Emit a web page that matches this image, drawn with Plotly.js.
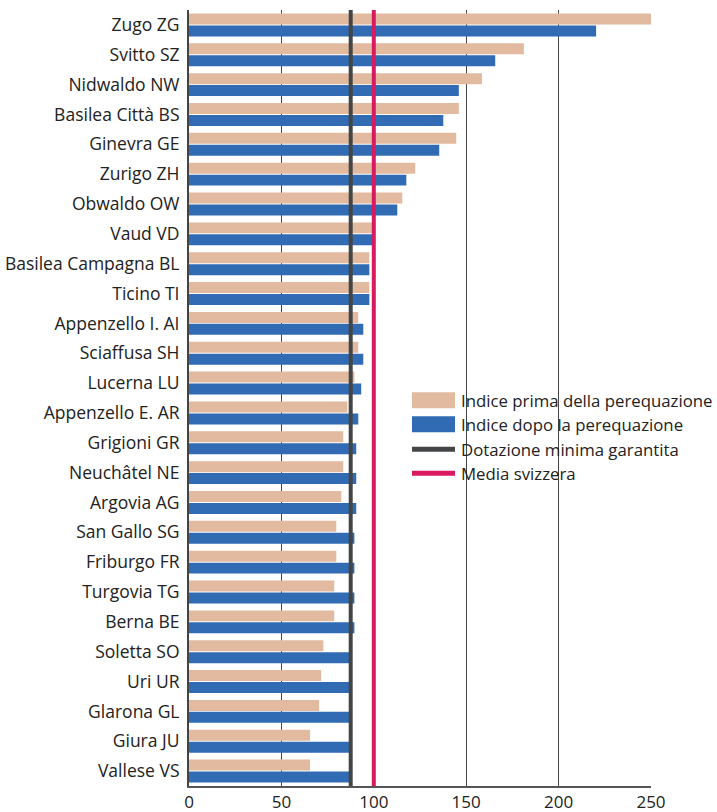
<!DOCTYPE html>
<html>
<head>
<meta charset="utf-8">
<script src="https://cdn.plot.ly/plotly-3.0.1.min.js"></script>
<style>
html,body{margin:0;padding:0;background:#fff;}
#chart{width:717px;height:812px;}
</style>
</head>
<body>
<div id="chart"></div>
<script>
const cantons = ["Zugo ZG","Svitto SZ","Nidwaldo NW","Basilea Città BS","Ginevra GE","Zurigo ZH","Obwaldo OW","Vaud VD","Basilea Campagna BL","Ticino TI","Appenzello I. AI","Sciaffusa SH","Lucerna LU","Appenzello E. AR","Grigioni GR","Neuchâtel NE","Argovia AG","San Gallo SG","Friburgo FR","Turgovia TG","Berna BE","Soletta SO","Uri UR","Glarona GL","Giura JU","Vallese VS"];
const indicePrima = [250.0,181.2,158.5,146.0,144.6,122.4,115.4,99.4,97.6,97.6,91.6,91.6,89.5,85.7,83.5,83.5,82.4,79.7,79.7,78.6,78.6,72.7,71.5,70.4,65.5,65.5];
const indiceDopo = [220.3,165.7,146.0,137.6,135.4,117.6,112.7,99.4,97.6,97.6,94.3,94.3,93.2,91.6,90.5,90.5,90.5,89.5,89.5,89.5,89.5,87.5,87.5,87.5,87.5,87.5];
const dotazioneMinima = 87.5;
const mediaSvizzera = 100;
const xTicks = [0,50,100,150,200,250];
const legendLabels = ["Indice prima della perequazione","Indice dopo la perequazione","Dotazione minima garantita","Media svizzera"];

const cBeige = "#e2baa0", cBlue = "#306bb3", cDark = "#434546", cRed = "#d81b60";
const font = "Open Sans, Noto Sans, sans-serif";

const traces = [
  {type:"bar", orientation:"h", y:cantons, x:indicePrima, name:legendLabels[0], marker:{color:cBeige}, showlegend:false, hoverinfo:"x+y"},
  {type:"bar", orientation:"h", y:cantons, x:indiceDopo, name:legendLabels[1], marker:{color:cBlue}, showlegend:false, hoverinfo:"x+y"}
];

const shapes = [
  {type:"line", xref:"x", yref:"paper", x0:dotazioneMinima, x1:dotazioneMinima, y0:0, y1:1, line:{color:cDark, width:4}},
  {type:"line", xref:"x", yref:"paper", x0:mediaSvizzera, x1:mediaSvizzera, y0:0, y1:1, line:{color:cRed, width:4}}
];
const annotations = [];
// custom legend
const legX0 = 412, legX1 = 455, legTextX = 459;
const legY = [400, 424, 449, 473];
const plotLeft = 189, plotW = 462, plotTop = 9.5, plotH = 776.5;
function px2x(p){return (p-plotLeft)/plotW;}
function py2y(p){return 1-(p-plotTop)/plotH;}
const legColors = [cBeige,cBlue,cDark,cRed];
legendLabels.forEach((lab,i)=>{
  const h = i<2 ? 8 : 2.5;
  shapes.push({type:"rect", xref:"paper", yref:"paper", x0:px2x(legX0), x1:px2x(legX1), y0:py2y(legY[i]+h), y1:py2y(legY[i]-h), fillcolor:legColors[i], line:{width:0}, layer:"above"});
  annotations.push({xref:"paper", yref:"paper", x:px2x(legTextX), y:py2y(legY[i]), xanchor:"left", yanchor:"middle", text:lab, showarrow:false, font:{family:font, size:16.8, color:"#222"}});
});

const layout = {
  width:717, height:812,
  margin:{l:189, r:66, t:9.5, b:26, pad:0},
  paper_bgcolor:"#fff", plot_bgcolor:"#fff",
  barmode:"group", bargap:0.2, bargroupgap:0.08,
  font:{family:font, size:17.5, color:"#222"},
  xaxis:{range:[0,250], tickvals:xTicks, ticktext:xTicks.map(String), showgrid:true, gridcolor:"#444", gridwidth:1, zeroline:false,
         showline:true, linecolor:"#555", linewidth:1.5, ticks:"", tickfont:{family:font, size:17, color:"#222"}, fixedrange:true},
  yaxis:{type:"category", autorange:"reversed", showgrid:false, zeroline:false, showline:true, linecolor:"#444", linewidth:2,
         ticks:"", ticklabelstandoff:4, tickfont:{family:font, size:17.5, color:"#222"}, fixedrange:true},
  shapes:shapes, annotations:annotations, showlegend:false
};
Plotly.newPlot("chart", traces, layout, {displayModeBar:false, staticPlot:true});
</script>
</body>
</html>
